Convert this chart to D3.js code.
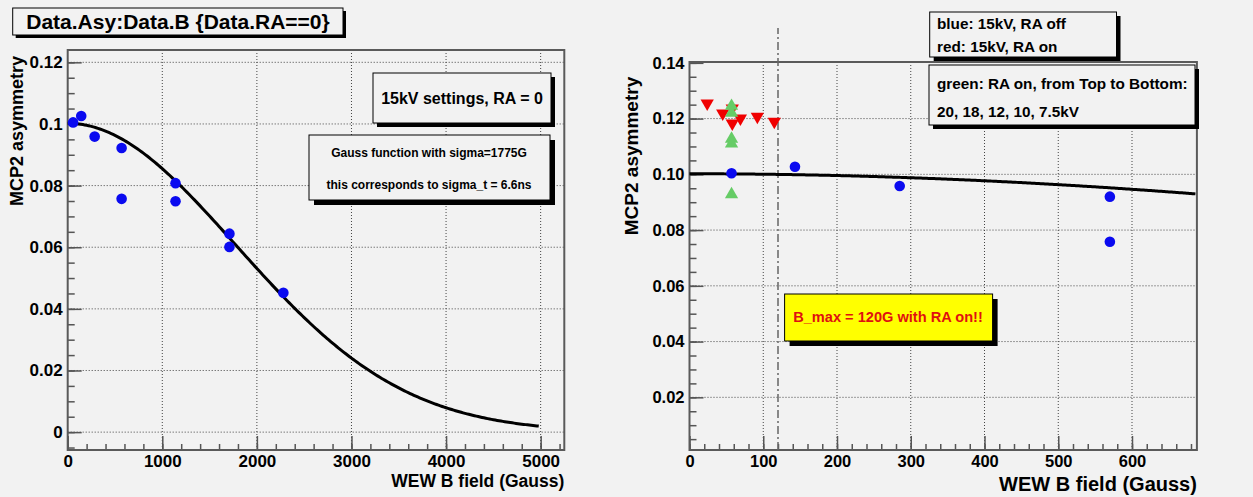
<!DOCTYPE html>
<html><head><meta charset="utf-8">
<script src="https://cdn.jsdelivr.net/npm/d3@7"></script>
<style>
html,body{margin:0;padding:0;background:#f2f2f2;}
svg{display:block;}
text{font-family:"Liberation Sans",Arial,Helvetica,sans-serif;font-weight:bold;fill:#000;}
</style></head>
<body>
<svg id="c" width="1253" height="497"></svg>
<script>
// ---------- data ----------
// Left panel: 15 kV, RA off (blue circles)
const leftB   = [57, 143, 285, 570, 570, 1140, 1140, 1710, 1710, 2280];
const leftAsy = [0.1005, 0.1026, 0.0959, 0.0922, 0.0757, 0.0808, 0.0749, 0.0644, 0.0601, 0.0452];
// Right panel series
const blueB   = [57, 143, 285, 570, 570];
const blueAsy = [0.1004, 0.1027, 0.0958, 0.0920, 0.0758];
const redB    = [24, 45, 58, 58, 69, 92, 115];
const redAsy  = [0.1255, 0.1219, 0.1237, 0.1183, 0.1201, 0.1207, 0.1189];
const greenB  = [57, 57, 57, 57, 57];
const greenAsy= [0.1245, 0.1220, 0.1127, 0.1110, 0.0928]; // 20, 18, 12, 10, 7.5 kV
// Gauss fit parameters
const fitAmp = 0.1002, fitSigma = 1775;
const leftFitRange = [0, 4980], rightFitRange = [0, 686];
const bMaxLine = 120;
// axis ticks
const leftXTicks = [0, 1000, 2000, 3000, 4000, 5000];
const leftYTicks = [0, 0.02, 0.04, 0.06, 0.08, 0.1, 0.12];
const leftYTickLabels = ["0", "0.02", "0.04", "0.06", "0.08", "0.1", "0.12"];
const rightXTicks = [0, 100, 200, 300, 400, 500, 600];
const rightYTicks = [0.02, 0.04, 0.06, 0.08, 0.10, 0.12, 0.14];

const svg = d3.select("#c");
svg.append("rect").attr("width",1253).attr("height",497).attr("fill","#f2f2f2");

function gauss(x){ return fitAmp*Math.exp(-0.5*(x/fitSigma)*(x/fitSigma)); }

function panel(opt){
  const g = svg.append("g");
  const x = d3.scaleLinear().domain(opt.xdom).range([opt.x0, opt.x1]);
  const y = d3.scaleLinear().domain(opt.ydom).range([opt.y1, opt.y0]);
  // grid
  const grid = g.append("g").attr("stroke","#444").attr("stroke-width",1).attr("stroke-dasharray","1,2");
  opt.xTicks.forEach(v=>{ if(x(v)>opt.x0+1 && x(v)<opt.x1-1) grid.append("line").attr("x1",x(v)).attr("x2",x(v)).attr("y1",opt.y0).attr("y2",opt.y1); });
  opt.yTicks.forEach(v=>{ if(y(v)>opt.y0+1 && y(v)<opt.y1-1) grid.append("line").attr("x1",opt.x0).attr("x2",opt.x1).attr("y1",y(v)).attr("y2",y(v)); });
  // axes via d3 axis (ticks inside)
  const xAxisMinor = d3.axisBottom(x).tickValues(d3.range(opt.xdom[0], opt.xdom[1], opt.xMinor)).tickSizeInner(-6).tickSizeOuter(0).tickFormat("");
  const xAxis = d3.axisBottom(x).tickValues(opt.xTicks).tickSizeInner(-14).tickSizeOuter(0).tickPadding(5).tickFormat(opt.xFmt);
  const yMinorVals = d3.range(Math.ceil(opt.ydom[0]/opt.yMinor)*opt.yMinor, opt.ydom[1], opt.yMinor);
  const yAxisMinor = d3.axisLeft(y).tickValues(yMinorVals).tickSizeInner(-7).tickSizeOuter(0).tickFormat("");
  const yAxis = d3.axisLeft(y).tickValues(opt.yTicks).tickSizeInner(-14).tickSizeOuter(0).tickPadding(5).tickFormat(opt.yFmt);
  [xAxisMinor, xAxis].forEach(a=>{
    const ag = g.append("g").attr("transform",`translate(0,${opt.y1})`).call(a);
    ag.select(".domain").remove();
    ag.selectAll("line").attr("stroke","#555").attr("stroke-width",1.5);
    ag.selectAll("text").attr("font-size",opt.tickFont).attr("font-family","Liberation Sans, Arial").attr("font-weight","bold").attr("fill","#000");
  });
  [yAxisMinor, yAxis].forEach(a=>{
    const ag = g.append("g").attr("transform",`translate(${opt.x0},0)`).call(a);
    ag.select(".domain").remove();
    ag.selectAll("line").attr("stroke","#555").attr("stroke-width",1.5);
    ag.selectAll("text").attr("font-size",opt.tickFont).attr("font-family","Liberation Sans, Arial").attr("font-weight","bold").attr("fill","#000");
  });
  // frame
  g.append("rect").attr("x",opt.x0).attr("y",opt.y0).attr("width",opt.x1-opt.x0).attr("height",opt.y1-opt.y0)
    .attr("fill","none").attr("stroke","#5a5a5a").attr("stroke-width",2);
  // titles
  g.append("text").attr("x",opt.x1).attr("y",opt.xTitleY).attr("text-anchor","end").attr("font-size",opt.xTitleFont).text("WEW B field (Gauss)");
  g.append("text").attr("transform",`translate(${opt.yTitleX},${opt.yTitleY}) rotate(-90)`).attr("text-anchor","middle").attr("font-size",opt.yTitleFont).text("MCP2 asymmetry");
  return {g,x,y};
}

function box(x0,y0,x1,y1,fill,sh){
  svg.append("rect").attr("x",x0+sh).attr("y",y0+sh).attr("width",x1-x0).attr("height",y1-y0).attr("fill","#000");
  svg.append("rect").attr("x",x0).attr("y",y0).attr("width",x1-x0).attr("height",y1-y0).attr("fill",fill).attr("stroke","#000").attr("stroke-width",1);
}

// ---------- left panel ----------
const L = panel({xdom:[0,5250], ydom:[-0.0058,0.1240], x0:67.7, x1:564.3, y0:50, y1:450,
  xTicks:leftXTicks, yTicks:leftYTicks, xMinor:200, yMinor:0.005,
  xFmt:d=>String(d), yFmt:(d,i)=>leftYTickLabels[i], tickFont:"17px",
  xTitleY:487, xTitleFont:"17.5px", yTitleX:23, yTitleY:131, yTitleFont:"18px"});
const lineL = d3.line().x(d=>L.x(d)).y(d=>L.y(gauss(d))).curve(d3.curveLinear);
L.g.append("path").datum(d3.range(leftFitRange[0], leftFitRange[1]+1, 20)).attr("d",lineL)
  .attr("fill","none").attr("stroke","#000").attr("stroke-width",3);
L.g.selectAll("circle.b").data(leftB.map((b,i)=>[b,leftAsy[i]])).enter().append("circle")
  .attr("cx",d=>L.x(d[0])).attr("cy",d=>L.y(d[1])).attr("r",5.3).attr("fill","#0a0af0");

// ---------- right panel ----------
const R = panel({xdom:[0,688], ydom:[0.0011,0.1403], x0:689.5, x1:1196.9, y0:62, y1:450,
  xTicks:rightXTicks, yTicks:rightYTicks, xMinor:20, yMinor:0.005,
  xFmt:d=>String(d), yFmt:d3.format(".2f"), tickFont:"16.5px",
  xTitleY:491, xTitleFont:"20px", yTitleX:638, yTitleY:156, yTitleFont:"19px"});
// B_max line
R.g.append("line").attr("x1",R.x(bMaxLine)).attr("x2",R.x(bMaxLine)).attr("y1",R.y(0.0011)).attr("y2",R.y(0.1525))
  .attr("stroke","#666").attr("stroke-width",1.5).attr("stroke-dasharray","8,3,2,3");
const lineR = d3.line().x(d=>R.x(d)).y(d=>R.y(gauss(d)));
R.g.append("path").datum(d3.range(rightFitRange[0], rightFitRange[1]+1, 2)).attr("d",lineR)
  .attr("fill","none").attr("stroke","#000").attr("stroke-width",3);
const tri = d3.symbol().type(d3.symbolTriangle).size(76);
R.g.selectAll("path.red").data(redB.map((b,i)=>[b,redAsy[i]])).enter().append("path")
  .attr("d",tri).attr("transform",d=>`translate(${R.x(d[0])},${R.y(d[1])}) rotate(180)`).attr("fill","#f00000");
R.g.selectAll("path.green").data(greenB.map((b,i)=>[b,greenAsy[i]])).enter().append("path")
  .attr("d",tri).attr("transform",d=>`translate(${R.x(d[0])},${R.y(d[1])})`).attr("fill","#66cc66");
R.g.selectAll("circle.b").data(blueB.map((b,i)=>[b,blueAsy[i]])).enter().append("circle")
  .attr("cx",d=>R.x(d[0])).attr("cy",d=>R.y(d[1])).attr("r",5.3).attr("fill","#0a0af0");

// ---------- boxes ----------
box(12.7,8,343,35,"#f2f2f2",3);
svg.append("text").attr("x",178).attr("y",29).attr("text-anchor","middle").attr("font-size","21px").text("Data.Asy:Data.B {Data.RA==0}");

box(373,73,551,123,"#f2f2f2",4);
svg.append("text").attr("x",462).attr("y",104).attr("text-anchor","middle").attr("font-size","16px").text("15kV settings, RA = 0");

box(309,135,550,200,"#f2f2f2",5);
svg.append("text").attr("x",429).attr("y",157).attr("text-anchor","middle").attr("font-size","12px").text("Gauss function with sigma=1775G");
svg.append("text").attr("x",429).attr("y",189).attr("text-anchor","middle").attr("font-size","12px").text("this corresponds to sigma_t = 6.6ns");

box(929.7,12,1116.5,57,"#f2f2f2",4);
svg.append("text").attr("x",937).attr("y",29).attr("font-size","15.3px").text("blue: 15kV, RA off");
svg.append("text").attr("x",937).attr("y",52).attr("font-size","15.3px").text("red: 15kV, RA on");

box(929,65,1195,125,"#f2f2f2",4);
svg.append("text").attr("x",937).attr("y",89).attr("font-size","15.3px").text("green: RA on, from Top to Bottom:");
svg.append("text").attr("x",937).attr("y",117).attr("font-size","15.3px").text("20, 18, 12, 10, 7.5kV");

box(784.6,294,992.6,341,"#ffff00",5);
svg.append("text").attr("x",888).attr("y",322).attr("text-anchor","middle").attr("font-size","14.6px").attr("fill","#e01010").style("fill","#e01010").text("B_max = 120G with RA on!!");
</script>
</body></html>
